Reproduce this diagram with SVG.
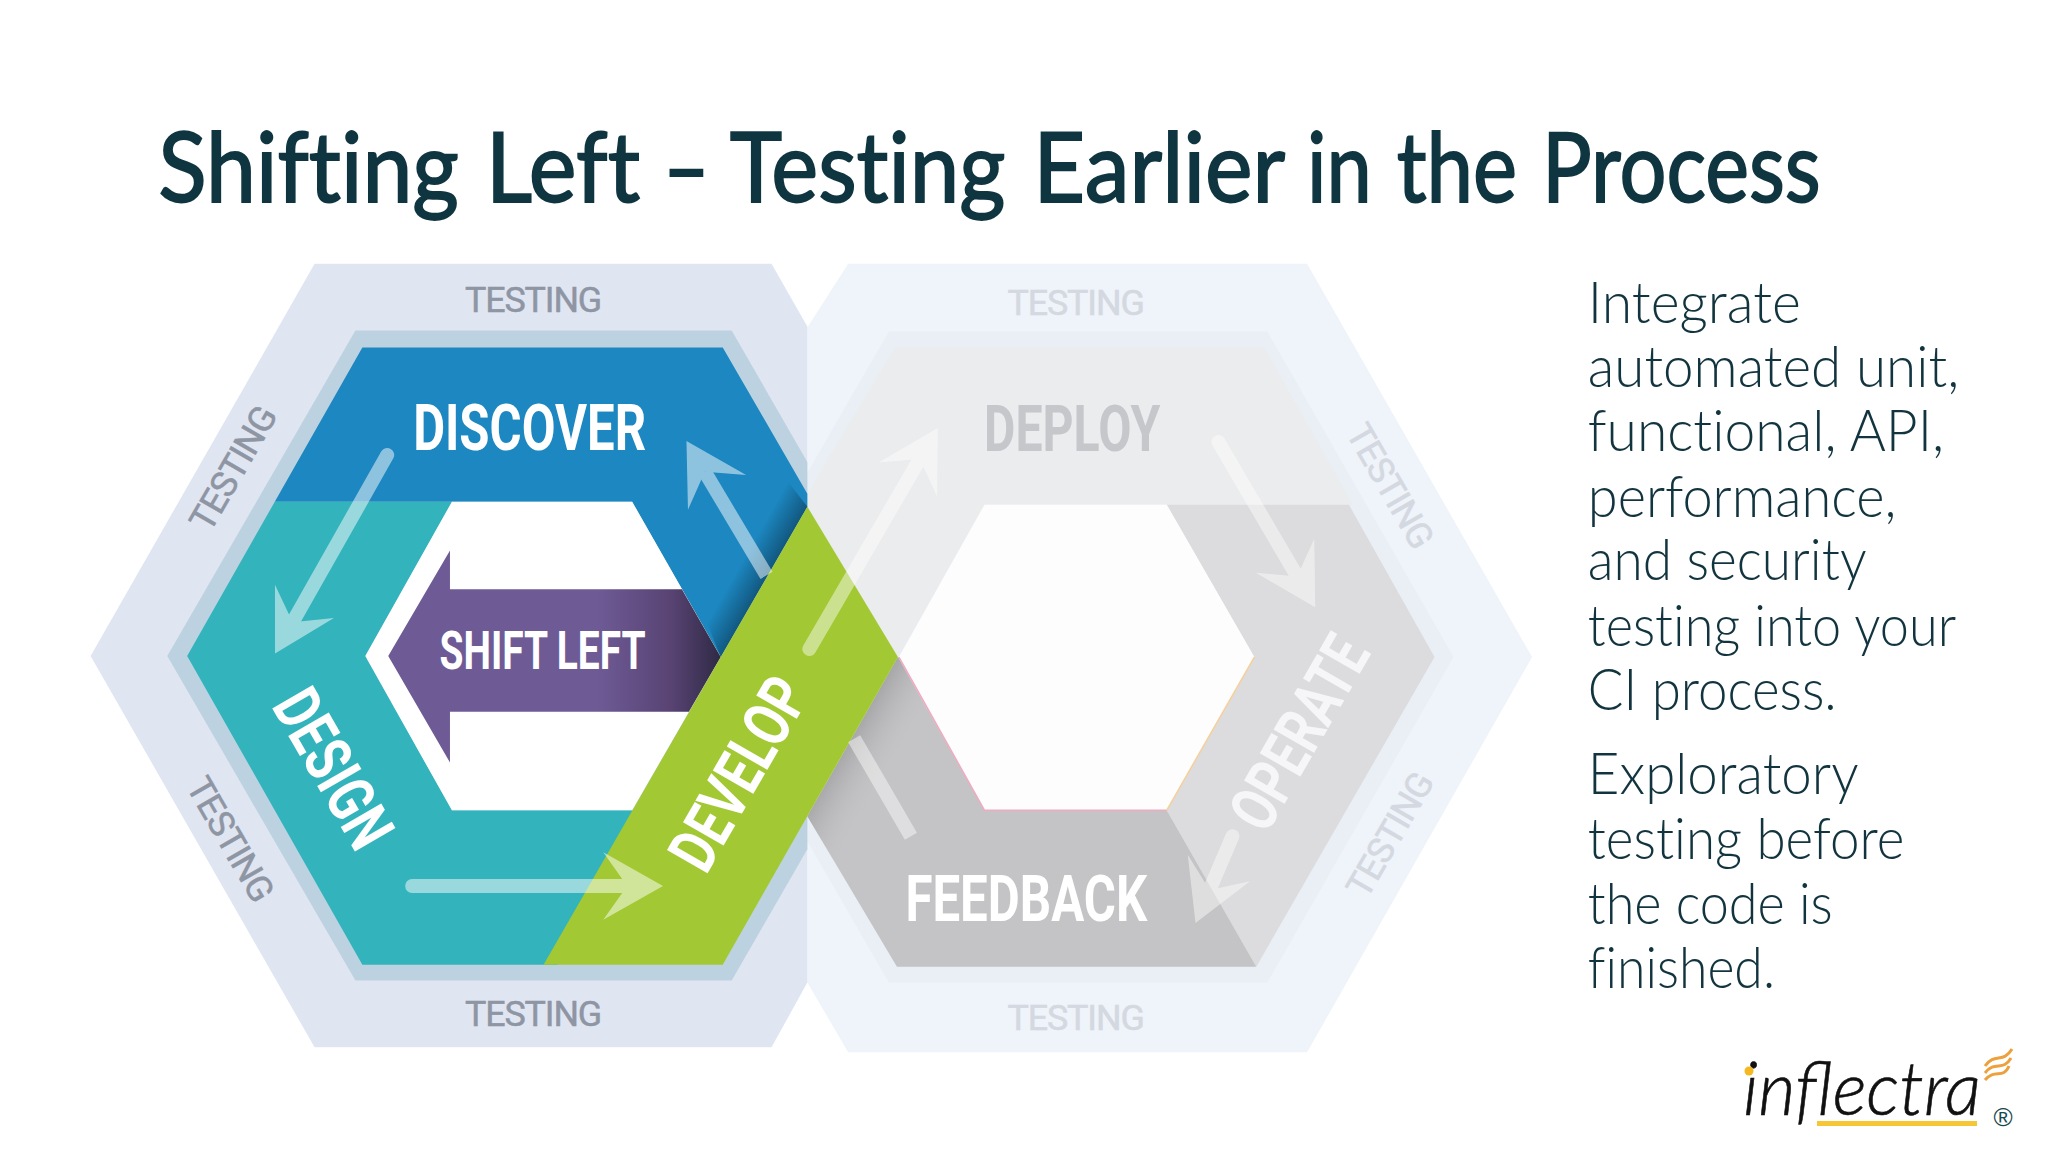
<svg xmlns="http://www.w3.org/2000/svg" width="2048" height="1152" viewBox="0 0 2048 1152">
<style>
.lab{font-family:"Liberation Sans Narrow","Roboto","Liberation Sans",sans-serif;font-weight:700;fill:#fff;text-anchor:middle}
.tst{font-family:"Liberation Sans Narrow","Roboto","Liberation Sans",sans-serif;font-size:36px;text-anchor:middle;fill:#8e95a3;stroke:#8e95a3;stroke-width:.5}
.tst2{fill:#d4d8e0;stroke:#d4d8e0}
.body{font-family:"Lato","Open Sans",sans-serif;font-weight:300;font-size:58px;fill:#12343f;font-variant-ligatures:none}
.title{font-family:"Lato","Open Sans",sans-serif;font-weight:400;font-size:98px;fill:#0f3540;stroke:#0f3540;stroke-width:1.8;font-variant-ligatures:none}
.ln{fill:none;stroke:#fff;stroke-width:14;stroke-linecap:round}
.bt{stroke-linecap:butt}
</style>
<defs>
<marker id="head" markerUnits="userSpaceOnUse" viewBox="-30 -40 80 80" markerWidth="80" markerHeight="80" refX="0" refY="0" orient="auto" overflow="visible"><path d="M36,0L-24,-34L0,0L-24,34Z" fill="#fff"/></marker>
<linearGradient id="pur" gradientUnits="userSpaceOnUse" x1="600" y1="0" x2="724" y2="0"><stop offset="0" stop-color="#6e5b96"/><stop offset=".6" stop-color="#584373"/><stop offset="1" stop-color="#2f2a45"/></linearGradient>
<linearGradient id="shd" gradientUnits="userSpaceOnUse" x1="755" y1="548" x2="790" y2="568"><stop offset="0" stop-color="#0c3a58" stop-opacity="0"/><stop offset="1" stop-color="#0c3a58" stop-opacity=".85"/></linearGradient>
<linearGradient id="fbk" gradientUnits="userSpaceOnUse" x1="856" y1="740" x2="900" y2="766"><stop offset="0" stop-color="#a8a8aa"/><stop offset="1" stop-color="#c4c4c6" stop-opacity="0"/></linearGradient>
</defs>
<rect width="2048" height="1152" fill="#fff"/>
<g id="art" transform="scale(.9955)">
<text id="title" class="title" y="203"><tspan x="159" textLength="302" lengthAdjust="spacingAndGlyphs">Shifting</tspan> <tspan x="488" textLength="155" lengthAdjust="spacingAndGlyphs">Left</tspan> <tspan x="666" textLength="47" lengthAdjust="spacingAndGlyphs">–</tspan> <tspan x="733" textLength="277" lengthAdjust="spacingAndGlyphs">Testing</tspan> <tspan x="1038" textLength="253" lengthAdjust="spacingAndGlyphs">Earlier</tspan> <tspan x="1313" textLength="65" lengthAdjust="spacingAndGlyphs">in</tspan> <tspan x="1403" textLength="121" lengthAdjust="spacingAndGlyphs">the</tspan> <tspan x="1549" textLength="280" lengthAdjust="spacingAndGlyphs">Process</tspan></text>

<g id="hex-right-frame">
<polygon points="811,329 852,265 1313,265 1539,660 1313,1057 852,1057 811,987" fill="#eff3fa"/>
<polygon points="811,475 893,333 1273,333 1460,660 1273,987 893,987 811,845" fill="#e9eff4"/>
<text class="tst tst2" x="1081" y="316" textLength="138" lengthAdjust="spacing">TESTING</text>
<text class="tst tst2" x="1081" y="1035" textLength="138" lengthAdjust="spacing">TESTING</text>
<text class="tst tst2" transform="translate(1397,488) rotate(60)" y="13" textLength="138" lengthAdjust="spacing">TESTING</text>
<text class="tst tst2" transform="translate(1396,838) rotate(-60)" y="13" textLength="138" lengthAdjust="spacing">TESTING</text>
</g>
<g id="hex-left-frame">
<polygon points="91,659 316,265 775,265 811,328 811,987 775,1052 316,1052" fill="#e0e5f2"/>
<polygon points="168,659 357,332 735,332 811,464 811,853 735,985 357,985" fill="#bdd2e0"/>
<text class="tst" x="536" y="313" textLength="138" lengthAdjust="spacing">TESTING</text>
<text class="tst" x="536" y="1031" textLength="138" lengthAdjust="spacing">TESTING</text>
<text class="tst" transform="translate(234,470) rotate(-60)" y="13" textLength="138" lengthAdjust="spacing">TESTING</text>
<text class="tst" transform="translate(232,843) rotate(60)" y="13" textLength="138" lengthAdjust="spacing">TESTING</text>
</g>
<g id="deploy">
<polygon points="811,509 902,660 989,507 1359,507 1270,349 899,349 811,496" fill="#ebecee"/>
<text class="lab" x="1077" y="453" font-size="66" style="fill:#c6c7cb" textLength="177" lengthAdjust="spacingAndGlyphs">DEPLOY</text>
</g>
<g id="operate">
<polygon points="1172,507 1355,507 1441,660 1262,971 1172,814 1260,660" fill="#dcdcde"/>
<text class="lab" transform="translate(1305,736) rotate(-60)" y="23" font-size="66" style="fill:#f6f6f8" textLength="212" lengthAdjust="spacingAndGlyphs">OPERATE</text>
</g>
<g id="feedback">
<polygon points="902,660 989,814 1172,814 1262,971 901,971 811,820" fill="#c4c4c6"/>
<polygon points="902,660 811,820 901,971 989,814" fill="url(#fbk)"/>
<text class="lab" x="1031" y="925" font-size="66" textLength="243" lengthAdjust="spacingAndGlyphs">FEEDBACK</text>
</g>
<g id="center-right"><polygon points="989,507 1172,507 1260,660 1172,814 989,814 903,660" fill="#fdfdfe"/>
<path d="M903,660L989,814H1172" fill="none" stroke="#f2a9c0" stroke-width="1.5"/><path d="M1172,814L1260,660" fill="none" stroke="#f6cf9a" stroke-width="1.5"/></g>
<g id="discover">
<polygon points="276,504 364,349 726,349 811,496 811,509 724,660 635,504" fill="#1c87c0"/>
<polygon points="811,509 724,660 700,600 781,470" fill="url(#shd)"/>
<text class="lab" x="532" y="452" font-size="66" textLength="234" lengthAdjust="spacingAndGlyphs">DISCOVER</text>
</g>
<g id="design">
<polygon points="276,504 188,659 364,969 560,969 640,814 454,814 367,659 454,504" fill="#33b4bc"/>
<text class="lab" transform="translate(335,772) rotate(60)" y="23" font-size="66" textLength="172" lengthAdjust="spacingAndGlyphs">DESIGN</text>
</g>
<g id="shift-left">
<polygon points="454,504 635,504 724,660 635,814 454,814 367,659" fill="#fff"/>
<polygon points="390,659 452,553 452,592 685,592 724,660 692,715 452,715 452,766" fill="url(#pur)"/>
<text class="lab" x="545" y="672" font-size="53" textLength="207" lengthAdjust="spacingAndGlyphs">SHIFT LEFT</text>
</g>
<g id="develop">
<polygon points="811,509 902,660 726,969 546,969" fill="#a2c934"/>
<text class="lab" transform="translate(742,777) rotate(-60)" y="23" font-size="66" textLength="211" lengthAdjust="spacingAndGlyphs">DEVELOP</text>
</g>
<g id="connectors">
<g opacity=".5"><path class="ln" d="M389,457L294,625" marker-end="url(#head)"/></g>
<g opacity=".5"><path class="ln" d="M414,890H630" marker-end="url(#head)"/></g>
<g opacity=".5"><path class="ln bt" d="M770,578L708,474" marker-end="url(#head)"/></g>
<g opacity=".45"><path class="ln" d="M813,652L924,461" marker-end="url(#head)"/></g>
<g opacity=".45"><path class="ln" d="M1224,444L1303,579" marker-end="url(#head)"/></g>
<g opacity=".45"><path class="ln" d="M1238,840L1215,894" marker-end="url(#head)"/></g>
<g opacity=".45"><path class="ln bt" d="M915,840L858,742"/></g>
</g>
<g id="copy">
<text class="body" x="1595" y="324" textLength="214" lengthAdjust="spacingAndGlyphs">Integrate</text>
<text class="body" x="1595" y="389" textLength="373" lengthAdjust="spacingAndGlyphs">automated unit,</text>
<text class="body" x="1595" y="453" textLength="358" lengthAdjust="spacingAndGlyphs">functional, API,</text>
<text class="body" x="1595" y="519" textLength="310" lengthAdjust="spacingAndGlyphs">performance,</text>
<text class="body" x="1595" y="583" textLength="280" lengthAdjust="spacingAndGlyphs">and security</text>
<text class="body" x="1595" y="649" textLength="370" lengthAdjust="spacingAndGlyphs">testing into your</text>
<text class="body" x="1595" y="713" textLength="250" lengthAdjust="spacingAndGlyphs">CI process.</text>
<text class="body" x="1595" y="798" textLength="272" lengthAdjust="spacingAndGlyphs">Exploratory</text>
<text class="body" x="1595" y="863" textLength="318" lengthAdjust="spacingAndGlyphs">testing before</text>
<text class="body" x="1595" y="928" textLength="246" lengthAdjust="spacingAndGlyphs">the code is</text>
<text class="body" x="1595" y="992" textLength="188" lengthAdjust="spacingAndGlyphs">finished.</text>
</g>
</g>
<g id="logo">
<text x="1743" y="1115" font-family="Lato,'Liberation Sans',sans-serif" font-style="italic" font-weight="300" font-size="74" fill="#111" stroke="#111" stroke-width=".6" textLength="238" lengthAdjust="spacingAndGlyphs">inflectra</text>
<circle cx="1749" cy="1071" r="4.5" fill="#f6b81f"/>
<rect x="1817" y="1121" width="160" height="5" fill="#f5c635"/>
<path d="M1985,1066C1995,1052 2003,1064 2012,1049M1985,1073C1995,1060 2003,1072 2011,1058M1985,1080C1995,1068 2003,1080 2009,1066" fill="none" stroke="#eda13c" stroke-width="3"/>
<text x="2003" y="1126" font-family="'Liberation Sans',sans-serif" font-size="26" text-anchor="middle" fill="#174a50">®</text>
</g>
</svg>
